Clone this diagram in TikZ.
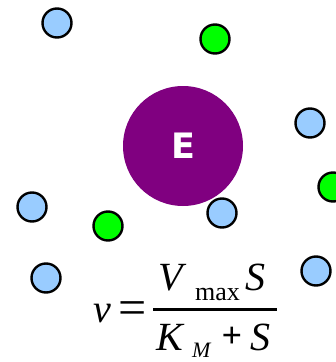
\documentclass[tikz,border=0pt]{standalone}
\usepackage{fontspec}
\setmainfont{Liberation Serif}
\newfontfamily\efont{DejaVu Sans}
\definecolor{sblue}{HTML}{99CCFF}
\definecolor{sgreen}{HTML}{00FF00}
\definecolor{epurple}{HTML}{800080}
\begin{document}
\begin{tikzpicture}[x=1pt,y=-1pt,
  subst/.style={circle,draw=black,line width=2.4pt,fill=sblue,minimum size=29pt,inner sep=0pt},
  prod/.style={circle,draw=black,line width=2.4pt,fill=sgreen,minimum size=29pt,inner sep=0pt},
  enz/.style={circle,fill=epurple,minimum size=120pt,inner sep=0pt,text=white,font=\efont\bfseries\fontsize{35}{35}\selectfont},
  fbig/.style={inner sep=0pt,anchor=base west,font=\fontsize{40}{40}\selectfont\itshape},
  fsmall/.style={inner sep=0pt,anchor=base west,font=\fontsize{26}{26}\selectfont},
  fsub/.style={inner sep=0pt,anchor=base west,font=\fontsize{22}{22}\selectfont\itshape}]
\useasboundingbox (0,0) rectangle (336,362);
\fill[white] (0,0) rectangle (336,362);
\node[enz] (E) at (183,146) {E};
\node[subst] (s1) at (57,23) {};
\node[prod] (p1) at (215,39) {};
\node[subst] (s2) at (310,123) {};
\node[prod] (p2) at (333,187) {};
\node[subst] (s3) at (32,207) {};
\node[prod] (p3) at (108,226) {};
\node[subst] (s4) at (222,213) {};
\node[subst] (s5) at (46,278) {};
\node[subst] (s6) at (316,271) {};
% formula
\node[fbig] (v) at (93,322) {v};
\node[inner sep=0pt,font=\fontsize{50}{50}\selectfont] (eq) at (133,313) {=};
\coordinate (barL) at (153,309);
\coordinate (barR) at (277,309);
\draw[line width=3pt] (barL) -- (barR);
\node[fbig] (V) at (158,290) {V};
\node[fsmall] (max) at (195,300) {max};
\node[fbig] (S1) at (245,290) {S};
\node[fbig] (K) at (156,350) {K};
\node[fsub] (M) at (192,357) {M};
\node[inner sep=0pt,font=\fontsize{36}{36}\selectfont\bfseries] (plus) at (232,337) {+};
\node[fbig] (S2) at (250,350) {S};
\end{tikzpicture}
\end{document}
